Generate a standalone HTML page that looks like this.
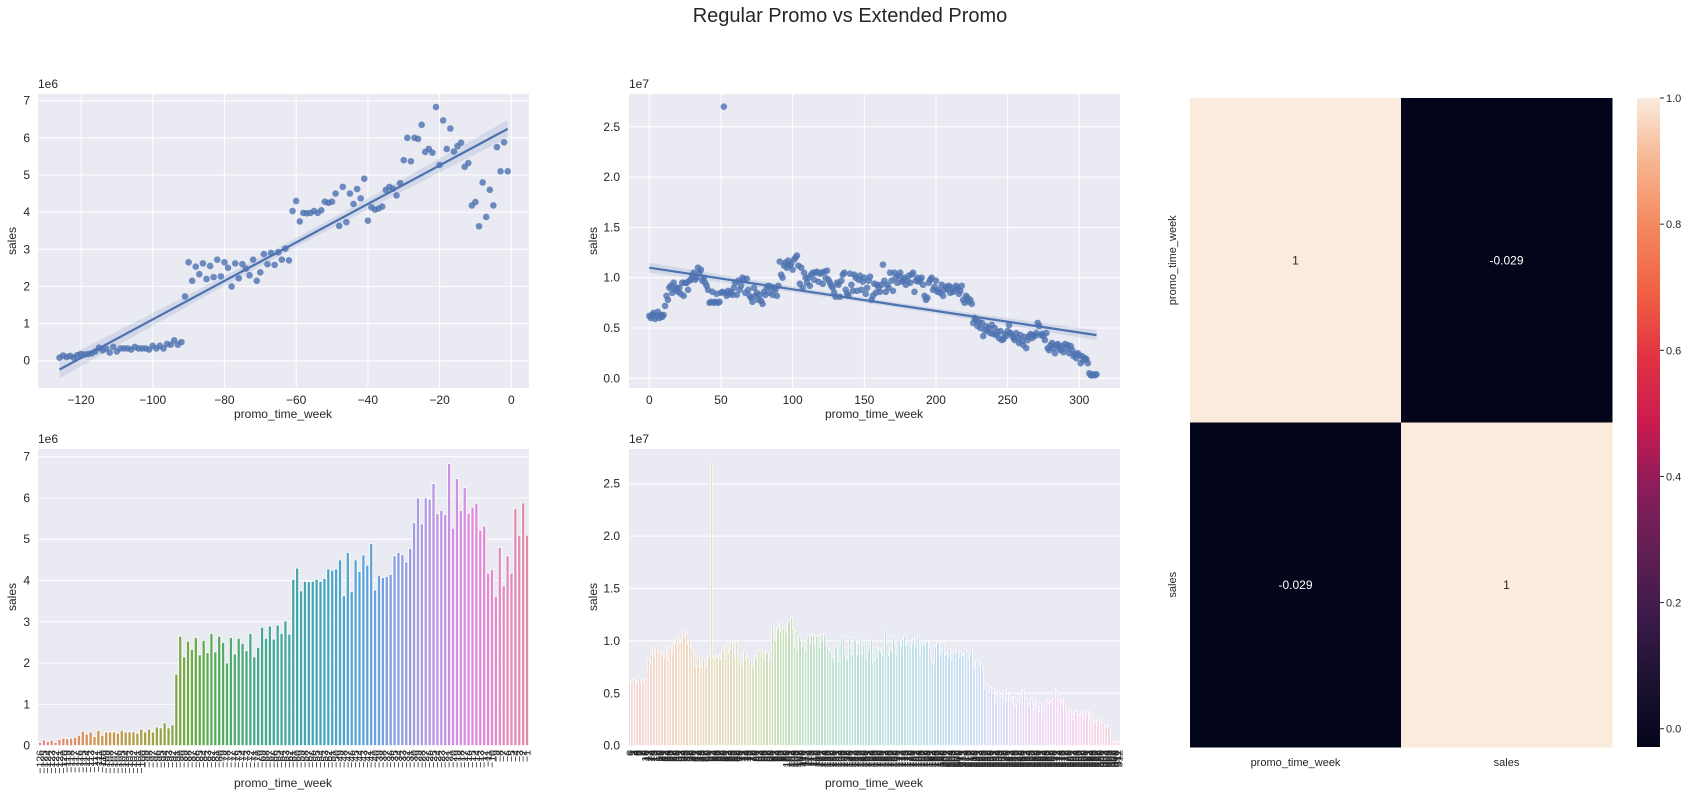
<!DOCTYPE html>
<html><head><meta charset="utf-8"><style>
html,body{margin:0;padding:0;background:#fff;}
svg{display:block;font-family:"Liberation Sans",sans-serif;}
</style></head><body>
<svg id="fig" width="1701" height="798" viewBox="0 0 1701 798" xmlns="http://www.w3.org/2000/svg">
<text x="850" y="22" text-anchor="middle" font-size="20" fill="#262626">Regular Promo vs Extended Promo</text>
</svg>
<script>
// ---- data ----
const regularSales = [0.08,0.14,0.10,0.13,0.08,0.15,0.18,0.17,0.18,0.20,0.25,0.35,0.28,0.33,0.22,0.37,0.25,0.33,0.33,0.33,0.30,0.37,0.33,0.33,0.33,0.30,0.40,0.33,0.40,0.33,0.45,0.43,0.55,0.43,0.50,
1.73,2.65,2.15,2.53,2.33,2.62,2.20,2.55,2.25,2.72,2.27,2.65,2.50,2.00,2.62,2.22,2.60,2.48,2.30,2.72,2.15,2.38,2.87,2.60,2.90,2.58,2.92,2.72,3.02,2.70,
4.03,4.30,3.75,3.98,3.97,3.98,4.03,3.98,4.05,4.28,4.25,4.28,4.50,3.63,4.68,3.73,4.50,4.22,4.62,4.37,4.90,3.77,4.13,4.07,4.10,4.15,4.60,4.68,4.63,4.45,4.78,5.40,6.00,5.37,6.00,5.97,6.35,5.62,5.70,5.60,6.83,5.27,6.47,5.70,6.25,5.63,5.78,5.87,5.22,5.32,4.18,4.27,3.62,4.80,3.87,4.60,4.18,5.75,5.10,5.88,5.10];
const regularWeekStart = -126;
const extendedSales = [0.62,0.60,0.63,0.65,0.59,0.62,0.66,0.60,0.63,0.61,0.63,
0.72,0.82,0.78,0.90,0.92,0.85,0.95,0.88,0.90,0.86,
0.90,0.84,0.95,0.82,0.95,0.95,0.88,0.97,0.98,1.02,
1.05,0.98,1.00,1.10,1.05,1.08,0.97,1.00,0.95,0.92,
0.88,0.75,0.76,0.86,0.75,0.76,0.84,0.75,0.76,0.85,
0.86,2.70,0.85,0.82,0.87,0.84,0.86,0.83,0.90,0.95,
0.83,0.97,0.88,0.92,1.00,0.98,0.85,0.99,0.88,0.82,
0.80,0.76,0.90,0.82,0.85,0.78,0.83,0.77,0.74,0.86,
0.83,0.90,0.92,0.85,0.91,0.83,0.90,0.88,0.82,0.92,
1.16,1.03,1.00,1.12,1.15,1.10,1.17,1.12,1.14,1.08,
1.18,1.20,1.22,1.12,0.94,1.10,0.90,1.05,1.00,0.95,
1.00,0.92,1.03,1.05,0.98,1.05,1.06,0.96,1.04,1.05,
0.94,1.06,1.00,1.07,0.98,0.95,0.92,0.90,0.85,0.81,
0.95,0.93,0.81,0.97,1.03,1.05,0.88,0.84,0.82,1.04,
0.93,0.87,1.03,1.00,0.87,0.98,1.02,0.88,0.96,1.00,
0.84,0.90,0.97,1.01,0.78,0.82,0.94,0.85,0.93,0.90,
0.86,0.93,1.13,0.97,0.86,0.93,0.90,1.05,0.97,0.87,
1.05,1.00,0.95,1.02,1.05,0.96,0.98,1.00,0.93,0.97,
1.02,0.95,1.03,1.05,0.86,0.97,1.00,0.96,0.98,1.00,
0.93,0.82,0.78,0.80,0.95,0.98,1.00,0.88,0.91,0.97,
0.86,0.88,0.85,0.93,0.82,0.88,0.91,0.89,0.92,0.85,
0.90,0.86,0.88,0.92,0.90,0.84,0.87,0.92,0.78,0.75,
0.82,0.80,0.76,0.78,0.74,
0.55,0.60,0.58,0.52,0.56,0.50,0.55,0.42,0.48,0.52,
0.47,0.50,0.45,0.53,0.44,0.50,0.43,0.46,0.40,0.47,
0.38,0.39,0.44,0.42,0.47,0.53,0.45,0.43,0.40,0.38,
0.45,0.40,0.35,0.43,0.37,0.33,0.41,0.30,0.38,0.42,
0.44,0.40,0.43,0.42,0.45,0.55,0.52,0.43,0.44,0.42,
0.38,0.45,0.30,0.28,0.33,0.35,0.30,0.25,0.33,0.34,
0.30,0.28,0.32,0.26,0.34,0.30,0.33,0.25,0.32,0.28,
0.22,0.24,0.20,0.25,0.23,0.15,0.22,0.18,0.20,0.19,
0.15,0.05,0.03,0.03,0.04,0.03,0.04];
const extendedWeekStart = 0;
const regTicksX = [-120,-100,-80,-60,-40,-20,0];
const regTicksY = [0,1,2,3,4,5,6,7];
const extTicksX = [0,50,100,150,200,250,300];
const extTicksY = [0,0.5,1.0,1.5,2.0,2.5];
const corrLabels = ["promo_time_week","sales"];
const corrValues = [[1,-0.029],[-0.029,1]];
const corrAnnot = [["1","-0.029"],["-0.029","1"]];
const cbarTicks = [0.0,0.2,0.4,0.6,0.8,1.0];

const NS="http://www.w3.org/2000/svg";
const svg=document.getElementById('fig');
function mk(tag,attrs,parent){const e=document.createElementNS(NS,tag);for(const k in attrs)e.setAttribute(k,attrs[k]);(parent||svg).appendChild(e);return e;}
const TXT="#262626";

function lin(d0,d1,r0,r1){return v=>r0+(v-d0)*(r1-r0)/(d1-d0);}

function axesBg(x0,y0,x1,y1,name){
  const r=mk('rect',{x:x0,y:y0,width:x1-x0,height:y1-y0,fill:'#eaeaf2'});
  
  
}
function gridX(vals,X,y0,y1,labelY,fmt,name){
  vals.forEach(v=>{const l=mk('line',{x1:X(v),x2:X(v),y1:y0,y2:y1,stroke:'#fff','stroke-width':1});
    
    
    if(labelY){const t=mk('text',{x:X(v),y:labelY,'text-anchor':'middle','font-size':12,fill:TXT});t.textContent=fmt(v);
      
      }
  });
}
function gridY(vals,Y,x0,x1,labelX,fmt,name){
  vals.forEach(v=>{const l=mk('line',{x1:x0,x2:x1,y1:Y(v),y2:Y(v),stroke:'#fff','stroke-width':1});
    
    
    const t=mk('text',{x:labelX,y:Y(v)+4,'text-anchor':'end','font-size':12,fill:TXT});t.textContent=fmt(v);
    
    
  });
}
function label(x,y,txt,rot,name,size){
  const t=mk('text',{x:x,y:y,'text-anchor':'middle','font-size':size||12,fill:TXT});
  if(rot)t.setAttribute('transform','rotate(-90 '+x+' '+y+')');
  t.textContent=txt;
  
  
}
function offText(x,y,txt,name){const t=mk('text',{x:x,y:y,'font-size':12,fill:TXT});t.textContent=txt;
  
  }
const minus=v=>(v<0?'\u2212':'')+Math.abs(v);

function regplot(xs,ys,X,Y,name){
  const n=xs.length;let mx=0,my=0;for(let i=0;i<n;i++){mx+=xs[i];my+=ys[i];}mx/=n;my/=n;
  let sxx=0,sxy=0;for(let i=0;i<n;i++){sxx+=(xs[i]-mx)**2;sxy+=(xs[i]-mx)*(ys[i]-my);}
  const b=sxy/sxx,a=my-b*mx;let sse=0;for(let i=0;i<n;i++)sse+=(ys[i]-a-b*xs[i])**2;
  const s=Math.sqrt(sse/(n-2));
  const xa=Math.min(...xs),xb=Math.max(...xs);const up=[],dn=[];
  for(let k=0;k<=40;k++){const x=xa+(xb-xa)*k/40;const yh=a+b*x;const se=1.96*s*Math.sqrt(1/n+(x-mx)**2/sxx);
    up.push(X(x)+','+Y(yh+se));dn.unshift(X(x)+','+Y(yh-se));}
  const band=mk('polygon',{points:up.concat(dn).join(' '),fill:'#4c72b0','fill-opacity':0.15});
  
  
  for(let i=0;i<n;i++){const c=mk('circle',{cx:X(xs[i]),cy:Y(ys[i]),r:3.3,fill:'#4c72b0','fill-opacity':0.8});
    
    }
  const ln=mk('line',{x1:X(xa),y1:Y(a+b*xa),x2:X(xb),y2:Y(a+b*xb),stroke:'#4c72b0','stroke-width':2.2});
  
  
}
const stops=['#e58a8e','#d49352','#a8a148','#5eac4a','#45aa8c','#45a6b4','#5ba3dc','#a89be6','#e08ae0','#e48aa8'];
function hex(h){return [1,3,5].map(i=>parseInt(h.substr(i,2),16));}
function pal(t){const p=t*(stops.length-1);const i=Math.min(Math.floor(p),stops.length-2);const f=p-i;
  const a=hex(stops[i]),b=hex(stops[i+1]);return 'rgb('+a.map((v,k)=>Math.round(v+(b[k]-v)*f)).join(',')+')';}
function barplot(vals,x0,x1,Y,ybase,name,labs,labY,fs){
  const n=vals.length,w=(x1-x0)/n;
  vals.forEach((v,i)=>{const r=mk('rect',{x:x0+i*w+w*0.1,y:Y(v),width:w*0.8,height:ybase-Y(v),fill:pal(i/(n-1)),stroke:'#fff','stroke-width':n>200?0.9:0.8});
    
    });
  labs.forEach((l,i)=>{const cx=x0+(i+0.5)*w+3.5;const t=mk('text',{x:cx,y:labY,'text-anchor':'end','font-size':fs,fill:TXT,transform:'rotate(-90 '+cx+' '+labY+')'});t.textContent=l;
    
    });
}

// ---- Top-left: regular regplot ----
const regWeeks=regularSales.map((_,i)=>regularWeekStart+i);
const extWeeks=extendedSales.map((_,i)=>extendedWeekStart+i);
{const X=lin(-120,0,81,511.3),Y=lin(0,7,360.7,100.7);
 axesBg(38,94,529,388,'regular-scatter-axes');
 gridX(regTicksX,X,94,388,404,minus,'regular-scatter-x');
 gridY(regTicksY,Y,38,529,30,v=>v,'regular-scatter-y');
 regplot(regWeeks,regularSales,X,Y,'regular-scatter');
 offText(38,88,'1e6','regular-scatter-offset');
 label(283,418,'promo_time_week',false,'regular-scatter-x-title');
 label(16,241,'sales',true,'regular-scatter-y-title');}
// ---- Top-middle: extended regplot ----
{const X=lin(0,300,649.3,1079.3),Y=lin(0,2.5,378.3,126.8);
 axesBg(629,94,1120,388,'extended-scatter-axes');
 gridX(extTicksX,X,94,388,404,v=>v,'extended-scatter-x');
 gridY(extTicksY,Y,629,1120,620,v=>v.toFixed(1),'extended-scatter-y');
 regplot(extWeeks,extendedSales,X,Y,'extended-scatter');
 offText(629,88,'1e7','extended-scatter-offset');
 label(874,418,'promo_time_week',false,'extended-scatter-x-title');
 label(597,241,'sales',true,'extended-scatter-y-title');}
// ---- Bottom-left: regular barplot ----
{const Y=lin(0,7,745.6,456.7);
 axesBg(38,449,529,745.6,'regular-bar-axes');
 gridY(regTicksY,Y,38,529,30,v=>v,'regular-bar-y');
 barplot(regularSales,38,529,Y,745.6,'regular-bar',regWeeks.map(minus),750,10.5);
 offText(38,443,'1e6','regular-bar-offset');
 label(283,787,'promo_time_week',false,'regular-bar-x-title');
 label(16,597,'sales',true,'regular-bar-y-title');}
// ---- Bottom-middle: extended barplot ----
{const Y=lin(0,2.5,745.7,483.7);
 axesBg(629,449,1120,745.7,'extended-bar-axes');
 gridY(extTicksY,Y,629,1120,620,v=>v.toFixed(1),'extended-bar-y');
 barplot(extendedSales,629,1120,Y,745.7,'extended-bar',extWeeks.map(String),750,10.5);
 offText(629,443,'1e7','extended-bar-offset');
 label(874,787,'promo_time_week',false,'extended-bar-x-title');
 label(597,597,'sales',true,'extended-bar-y-title');}
// ---- Heatmap ----
const rocket=[[0,'#03051a'],[0.1,'#1c1230'],[0.2,'#3a1a4a'],[0.3,'#611f53'],[0.4,'#8a1d5a'],[0.5,'#cb1b4f'],[0.6,'#e13342'],[0.7,'#f06043'],[0.8,'#f4875e'],[0.9,'#f6b48e'],[1,'#faebdd']];
const vmin=-0.029,vmax=1;
function cmap(v){const t=(v-vmin)/(vmax-vmin);for(let i=0;i<rocket.length-1;i++){if(t<=rocket[i+1][0]){const f=(t-rocket[i][0])/(rocket[i+1][0]-rocket[i][0]);const a=hex(rocket[i][1]),b=hex(rocket[i+1][1]);return 'rgb('+a.map((x,k)=>Math.round(x+(b[k]-x)*f)).join(',')+')';}}return rocket[rocket.length-1][1];}
{const hx0=1190,hx1=1612,hy0=98,hy1=747;const cw=(hx1-hx0)/2,ch=(hy1-hy0)/2;
 corrValues.forEach((row,r)=>row.forEach((v,c)=>{
   const rc=mk('rect',{x:hx0+c*cw,y:hy0+r*ch,width:cw+0.5,height:ch+0.5,fill:cmap(v)});
   
   
   const t=mk('text',{x:hx0+(c+0.5)*cw,y:hy0+(r+0.5)*ch+4,'text-anchor':'middle','font-size':12,fill:v>0.5?TXT:'#ffffff'});t.textContent=corrAnnot[r][c];
   
   
 }));
 corrLabels.forEach((l,i)=>{label(hx0+(i+0.5)*cw,766,l,false,'heatmap-x-tick-label',11);label(1176,hy0+(i+0.5)*ch,l,true,'heatmap-y-tick-label',11);});
 // colorbar
 const defs=mk('defs',{});const g=mk('linearGradient',{id:'cb',x1:0,y1:1,x2:0,y2:0},defs);
 for(let k=0;k<=20;k++){const v=vmin+(vmax-vmin)*k/20;mk('stop',{offset:k/20,'stop-color':cmap(v)},g);}
 const CY=lin(vmin,vmax,747,98);
 const cb=mk('rect',{x:1637,y:CY(vmax),width:23,height:CY(vmin)-CY(vmax),fill:'url(#cb)'});
 
 
 cbarTicks.forEach(v=>{const l=mk('line',{x1:1660,x2:1664,y1:CY(v),y2:CY(v),stroke:TXT,'stroke-width':1});
   
   
   const t=mk('text',{x:1666,y:CY(v)+4,'font-size':11,fill:TXT});t.textContent=v.toFixed(1);
   
   });}
</script>
</body></html>
